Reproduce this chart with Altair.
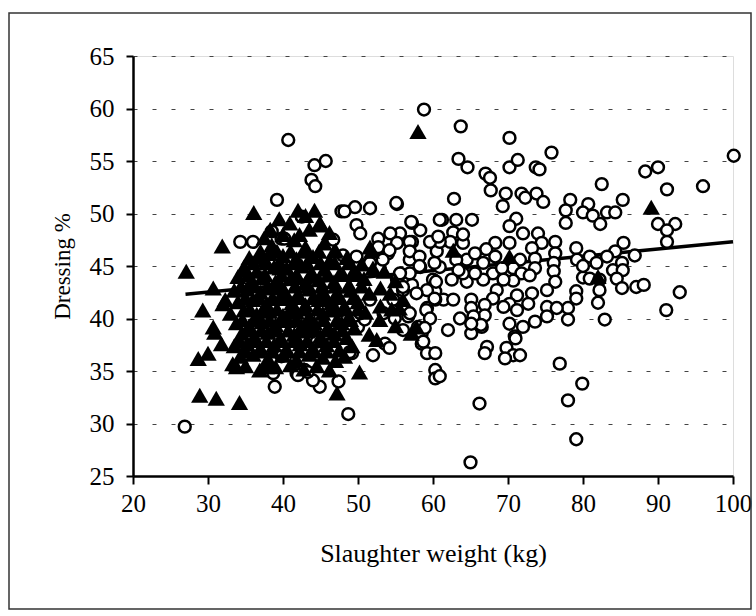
import altair as alt
import pandas as pd

FONT = "Times New Roman, Liberation Serif, DejaVu Serif, serif"

# Open circles: dressing % against slaughter weight
circ_x = [
    58.8, 63.7, 70.2, 75.8, 100.1, 63.4, 64.6, 70.2, 71.3, 73.7, 74.2, 67.0, 67.6, 67.7, 82.5,
    88.3, 90.0, 91.2, 96.0, 55.2, 62.8, 69.7, 69.3, 71.8, 72.3, 73.8, 74.7, 78.3, 77.7, 77.7,
    80.7, 80.0, 81.3, 82.3, 83.2, 84.3, 85.3, 90.0, 92.3, 91.2, 91.2, 86.9, 85.4, 84.3, 83.2,
    85.2, 84.0, 85.3, 80.0, 80.9, 82.2, 82.2, 82.0, 84.5, 85.2, 87.1, 88.1, 82.9, 91.1, 92.9,
    79.1, 79.2, 80.9, 81.8, 80.0, 78.0, 78.0, 79.1, 79.1, 76.9, 79.9, 78.0, 66.2, 79.1, 76.3,
    76.3, 76.1, 76.1, 76.3, 75.2, 75.2, 75.2, 76.5, 74.0, 74.5, 73.2, 73.6, 73.6, 72.0, 71.1,
    70.2, 70.2, 71.6, 70.7, 71.8, 70.7, 72.9, 73.2, 72.7, 71.2, 70.2, 71.2, 73.6, 72.0, 70.2,
    70.9, 69.8, 70.7, 71.6, 69.6, 67.2, 66.9, 68.3, 67.1, 68.3, 66.7, 68.0, 66.7, 69.2, 69.4,
    68.5, 68.0, 69.4, 66.9, 66.9, 66.5, 65.1, 65.1, 65.4, 65.1, 63.6, 62.0, 64.5, 64.0, 65.6,
    64.5, 64.0, 65.6, 62.7, 63.1, 61.2, 65.2, 64.0, 62.3, 63.1, 63.4, 62.5, 60.9, 60.5, 60.9,
    59.6, 60.0, 61.4, 62.7, 60.3, 60.3, 59.2, 59.2, 58.5, 58.5, 59.2, 60.3, 60.3, 60.3, 60.9,
    58.0, 56.7, 56.0, 57.2, 58.3, 56.9, 57.2, 58.3, 57.2, 55.6, 54.3, 55.2, 54.0, 52.7, 52.7,
    52.9, 55.2, 54.9, 53.6, 52.0, 56.0, 50.0, 50.9, 48.7, 49.2, 49.6, 51.6, 49.8, 50.3, 65.0,
    66.4, 65.1, 71.0, 26.9, 39.2, 43.8, 44.3, 34.3, 36.0, 38.5, 39.8, 42.5, 47.8, 46.7, 48.0,
    46.5, 48.9, 47.4, 44.9, 38.9, 41.8, 39.8, 42.9, 44.0, 38.7, 40.7, 44.2, 45.7, 55.1, 48.2,
    57.1, 60.9, 56.9, 60.7, 52.7, 54.2, 56.9, 58.2, 60.2, 53.3, 50.2, 55.3, 58.2, 56.9, 60.4,
    56.0, 56.9, 59.1, 60.2, 54.2, 58.7, 42.0, 43.3, 40.2, 49.8, 51.6, 55.6, 57.8, 54.7, 59.6,
    58.9, 51.6, 53.4, 50.3, 44.5, 47.5, 43.0,
]
circ_y = [
    59.9, 58.3, 57.2, 55.8, 55.5, 55.2, 54.4, 54.4, 55.1, 54.4, 54.2, 53.8, 53.4, 52.2, 52.8,
    54.0, 54.4, 52.3, 52.6, 50.9, 51.4, 51.9, 50.7, 51.9, 51.5, 51.9, 51.1, 51.3, 50.3, 49.1,
    50.9, 50.1, 49.8, 49.0, 50.1, 50.1, 51.3, 49.0, 49.0, 48.4, 47.3, 46.0, 47.2, 46.4, 45.9,
    45.3, 44.6, 44.6, 43.9, 43.8, 43.7, 42.7, 41.5, 43.8, 42.9, 43.0, 43.2, 39.9, 40.8, 42.5,
    46.7, 45.6, 45.9, 45.3, 45.0, 41.0, 39.9, 42.6, 41.9, 35.7, 33.8, 32.2, 31.9, 28.5, 47.3,
    46.2, 45.3, 44.5, 43.5, 42.7, 41.1, 40.2, 41.0, 48.1, 47.2, 46.7, 45.7, 44.8, 48.1, 49.5,
    48.8, 47.2, 45.6, 44.8, 44.3, 43.6, 44.1, 42.4, 41.4, 42.2, 41.4, 40.8, 39.7, 39.2, 39.5,
    38.3, 37.2, 36.5, 36.5, 36.2, 37.3, 36.7, 47.2, 46.6, 45.9, 45.3, 44.3, 43.7, 44.8, 43.7,
    42.7, 41.9, 41.1, 41.3, 40.3, 39.2, 41.8, 41.0, 40.2, 38.6, 40.0, 38.9, 43.5, 44.3, 44.3,
    45.6, 47.2, 46.2, 48.2, 49.4, 49.4, 49.4, 48.0, 47.3, 45.6, 44.6, 43.7, 44.9, 46.4, 47.3,
    47.3, 43.7, 41.8, 41.8, 41.8, 42.6, 42.7, 41.0, 38.6, 37.6, 36.7, 36.7, 35.1, 34.3, 34.5,
    39.2, 40.2, 42.7, 43.2, 44.9, 45.6, 47.3, 48.4, 49.1, 48.1, 48.1, 47.2, 46.2, 47.6, 45.6,
    44.8, 43.7, 40.0, 37.6, 36.5, 38.9, 39.2, 39.9, 30.9, 36.7, 50.6, 50.5, 48.9, 48.1, 26.3,
    39.4, 39.5, 38.1, 29.7, 51.3, 53.2, 52.6, 47.3, 47.3, 48.3, 47.6, 49.7, 50.2, 47.5, 46.0,
    41.1, 36.8, 34.0, 33.5, 33.5, 34.8, 36.4, 35.1, 34.1, 34.8, 57.0, 54.6, 55.0, 51.0, 50.2,
    49.2, 49.4, 47.3, 47.8, 46.8, 46.5, 46.4, 45.9, 45.3, 45.6, 45.2, 43.8, 45.0, 44.3, 43.5,
    43.0, 40.5, 40.8, 41.9, 37.2, 37.8, 34.6, 34.9, 47.6, 45.9, 45.3, 44.3, 42.4, 41.8, 40.0,
    39.1, 41.8, 40.5, 40.5, 37.8, 38.5, 39.0,
]

# Filled triangles: second group of animals
tri_x = [
    27.1, 28.9, 31.1, 34.2, 28.7, 30.0, 29.3, 30.7, 31.9, 36.1, 30.7, 30.9, 31.8, 32.0, 32.3,
    33.3, 33.8, 34.0, 34.7, 36.9, 37.8, 38.0, 58.0, 89.1, 47.2, 50.2, 42.0, 44.2, 45.1, 40.9,
    44.9, 36.9, 37.6, 39.6, 48.2, 57.1, 52.9, 70.2, 82.0, 57.8, 51.6, 54.3, 62.7,
    38.5, 41.5, 43.0, 45.5, 47.0, 42.2,
    35.5, 38.2, 40.0, 41.8, 44.0, 46.2, 48.5, 50.5,
    34.8, 36.5, 38.8, 40.5, 42.5, 43.8, 45.5, 47.5, 49.5, 52.0, 53.5,
    35.8, 37.2, 39.0, 41.0, 43.0, 44.8, 46.8, 48.8, 50.8, 55.0,
    33.5, 35.2, 37.0, 38.5, 40.2, 42.0, 43.5, 45.2, 47.0, 49.0, 51.5, 53.0,
    34.0, 36.0, 37.8, 39.5, 41.2, 43.0, 44.8, 46.5, 48.2, 50.0, 56.0,
    33.0, 34.8, 36.5, 38.2, 40.0, 41.8, 43.5, 45.3, 47.0, 48.8, 51.0, 54.5,
    33.8, 35.5, 37.2, 39.0, 40.7, 42.5, 44.2, 46.0, 47.8, 49.5,
    34.5, 36.2, 38.0, 39.7, 41.5, 43.2, 45.0, 46.8, 48.5, 51.5,
    33.5, 35.2, 37.0, 38.8, 40.5, 42.3, 44.0, 45.8, 47.5, 49.2,
    34.3, 36.0, 38.0, 40.0, 41.8, 43.5, 45.3, 47.0,
    39.0, 41.0, 42.8, 44.5, 46.2, 35.0,
    38.3, 40.0, 43.5, 46.2, 37.5, 39.5, 43.0,
    51.8, 53.0, 55.5, 52.5, 55.0,
    37.0, 39.2, 41.0, 42.8, 44.8, 46.8,
    36.0, 37.8, 39.6, 41.4, 43.2, 45.0, 46.9, 48.8,
    35.4, 37.6, 39.8, 41.8, 43.9, 46.0, 48.0, 50.0,
    34.4, 36.2, 38.0, 39.8, 41.6, 43.4, 45.2, 47.0, 48.8, 50.5,
    35.0, 36.8, 38.6, 40.4, 42.2, 44.0, 45.8, 47.6, 49.4,
    35.6, 37.4, 39.2, 41.0, 42.8, 44.6, 46.4, 48.2, 50.0,
    34.6, 36.4, 38.2, 40.0, 41.8, 43.6, 45.4, 47.2, 49.0,
    35.3, 37.1, 38.9, 40.7, 42.5, 44.3, 46.1, 47.9,
    34.2, 36.0, 37.8, 39.6, 41.4, 43.2, 45.0, 46.8,
    35.0, 36.8, 38.6, 40.4, 42.2, 44.0, 45.8,
]
tri_y = [
    44.5, 32.7, 32.4, 32.0, 36.2, 36.7, 40.8, 42.9, 46.9, 50.1, 39.2, 38.7, 37.6, 41.4, 41.8,
    35.7, 35.4, 44.0, 44.6, 35.1, 35.4, 35.9, 57.8, 50.6, 32.9, 34.9, 50.3, 50.3, 48.9, 49.1,
    49.1, 45.9, 45.6, 44.8, 36.4, 38.6, 39.9, 45.9, 44.0, 39.2, 46.8, 42.4, 46.5,
    47.0, 47.5, 46.8, 47.2, 46.5, 48.0,
    45.8, 46.2, 46.0, 45.7, 45.9, 45.5, 45.8, 45.2,
    44.9, 44.5, 44.9, 44.8, 45.0, 44.4, 44.7, 44.2, 44.6, 44.8, 44.5,
    43.6, 43.9, 43.5, 43.8, 43.4, 43.7, 43.5, 43.2, 43.8, 43.6,
    42.7, 42.8, 42.5, 42.9, 42.6, 42.3, 42.8, 42.5, 42.2, 42.7, 42.4, 42.9,
    41.6, 41.8, 41.4, 41.9, 41.5, 41.3, 41.8, 41.5, 41.2, 41.6, 41.8,
    40.5, 40.8, 40.4, 40.7, 40.3, 40.6, 40.2, 40.5, 40.8, 40.2, 40.6, 40.9,
    39.6, 39.3, 39.7, 39.4, 39.8, 39.3, 39.6, 39.2, 39.6, 39.1,
    38.6, 38.3, 38.7, 38.2, 38.5, 38.8, 38.3, 38.6, 38.2, 38.5,
    37.4, 37.6, 37.2, 37.5, 37.1, 37.6, 37.2, 37.5, 37.0, 37.4,
    36.4, 36.6, 36.2, 36.5, 36.1, 36.6, 36.3, 36.0,
    35.4, 35.6, 35.2, 35.5, 35.1, 35.5,
    48.5, 48.0, 48.5, 48.2, 47.7, 49.5, 49.8,
    46.4, 41.2, 41.0, 38.0, 39.3,
    46.4, 46.4, 46.4, 46.4, 46.4, 46.4,
    45.3, 45.3, 45.3, 45.3, 45.3, 45.3, 45.3, 45.3,
    44.2, 44.2, 44.2, 44.2, 44.2, 44.2, 44.2, 44.2,
    43.1, 43.1, 43.1, 43.1, 43.1, 43.1, 43.1, 43.1, 43.1, 43.1,
    42.0, 42.0, 42.0, 42.0, 42.0, 42.0, 42.0, 42.0, 42.0,
    40.9, 40.9, 40.9, 40.9, 40.9, 40.9, 40.9, 40.9, 40.9,
    39.9, 39.9, 39.9, 39.9, 39.9, 39.9, 39.9, 39.9, 39.9,
    38.9, 38.9, 38.9, 38.9, 38.9, 38.9, 38.9, 38.9,
    37.9, 37.9, 37.9, 37.9, 37.9, 37.9, 37.9, 37.9,
    36.9, 36.9, 36.9, 36.9, 36.9, 36.9, 36.9,
]

# Fitted linear trend
fit_x = [27, 100]
fit_y = [42.3, 47.3]

x_ticks = [20, 30, 40, 50, 60, 70, 80, 90, 100]
y_ticks = [25, 30, 35, 40, 45, 50, 55, 60, 65]

circles = pd.DataFrame({"w": circ_x, "d": circ_y})
triangles = pd.DataFrame({"w": tri_x, "d": tri_y})
trend = pd.DataFrame({"w": fit_x, "d": fit_y})

x_axis = alt.Axis(
    values=x_ticks, title="Slaughter weight (kg)", grid=False,
    domainColor="black", domainWidth=2.5, tickColor="black", tickWidth=2, tickSize=8,
    labelFont=FONT, labelFontSize=25, labelColor="black", labelPadding=7, labelFlush=False,
    titleFont=FONT, titleFontSize=26, titleFontWeight="normal", titleColor="black",
    titlePadding=24,
)
y_axis = alt.Axis(
    values=y_ticks, title="Dressing %", grid=True,
    gridColor="#444", gridDash=[4, 15], gridWidth=1,
    domainColor="black", domainWidth=2.5, tickColor="black", tickWidth=2, tickSize=7,
    labelFont=FONT, labelFontSize=25, labelColor="black", labelPadding=12,
    titleFont=FONT, titleFontSize=23, titleFontWeight="normal", titleColor="black",
    titlePadding=15,
)
x_enc = alt.X("w:Q", scale=alt.Scale(domain=[20, 100], nice=False, zero=False), axis=x_axis)
y_enc = alt.Y("d:Q", scale=alt.Scale(domain=[25, 65], nice=False, zero=False), axis=y_axis)

# Outer chart frame
frame = alt.Chart(pd.DataFrame({"k": [0]})).mark_rect(
    fill=None, stroke="#333", strokeWidth=1.5, clip=False
).encode(x=alt.value(-124), x2=alt.value(618), y=alt.value(-43), y2=alt.value(553))

line = alt.Chart(trend).mark_line(color="black", strokeWidth=3.5).encode(x=x_enc, y=y_enc)

circ = alt.Chart(circles).mark_point(
    shape="circle", filled=False, fill="white", fillOpacity=1, stroke="black",
    strokeWidth=2.5, size=140, opacity=1
).encode(x=x_enc, y=y_enc)

tri = alt.Chart(triangles).mark_point(
    shape="triangle-up", filled=True, color="black", size=300, opacity=1
).encode(x=x_enc, y=y_enc)

chart = alt.layer(frame, line, circ, tri).properties(
    width=600, height=420,
    autosize=alt.AutoSizeParams(type="none"),
    padding={"left": 133, "top": 56, "right": 23, "bottom": 140},
    background="white",
).configure_view(stroke="#333", strokeWidth=1.2).configure(font=FONT)

chart.save("out.html", embed_options={"renderer": "svg", "actions": False})
